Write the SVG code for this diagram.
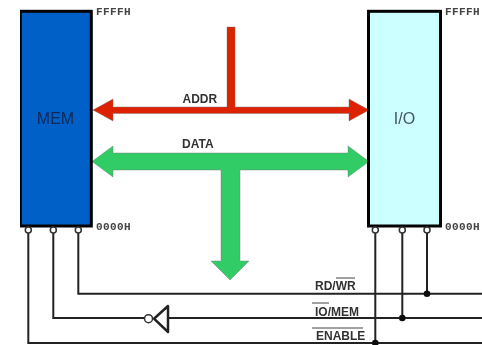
<svg xmlns="http://www.w3.org/2000/svg" width="482" height="345" viewBox="0 0 482 345">
<defs><filter id="soft" x="0" y="0" width="100%" height="100%"><feGaussianBlur stdDeviation="0.45"/></filter></defs>
<style>
.all{filter:url(#soft)}
.box{stroke:#000;stroke-width:3}
.addr{font:bold 11px "Liberation Mono",monospace;letter-spacing:.4px;fill:#444}
.sig{font:bold 12px "Liberation Sans",Arial,sans-serif;fill:#333}
.name{font:16px "Liberation Sans",Arial,sans-serif;text-anchor:middle}
.w{fill:none;stroke:#222;stroke-width:2}
.pin{fill:#fff;stroke:#333;stroke-width:1.500}
.ol{stroke:#444;stroke-width:1;fill:none}
.dot{fill:#111}
.bus{stroke:#777;stroke-width:.6;stroke-opacity:.7}
</style>
<rect width="482" height="345" fill="#fff"/>
<g class="all">
<g id="connectors">
<path class="w" d="M78.300 232V293.700H482M53.300 232V318H145M169 318H482M28.300 232V343H482M375.300 228V343M402.300 228V318M427 228V293.700"/>
<circle class="dot" cx="427" cy="293.700" r="3.300"/>
<circle class="dot" cx="402.300" cy="318" r="3.300"/>
<circle class="dot" cx="375.300" cy="343" r="3.300"/>
<path class="bus" d="M227 27H235V107H349V99L369 110L349 121V113.500H113V121L93 110L113 99V107H227Z" fill="#dd2200"/>
<path class="bus" d="M113 153H348V146L369 161.500L348 177V170H240V261H249L230 280L211 261H221V170H113V177L92 161.500L113 146Z" fill="#33cc66"/>
</g>
<g id="mem">
<rect class="box" x="20.300" y="11.300" width="71" height="214.700" fill="#0060c8"/>
<text class="name" x="55.500" y="124" fill="#0a2a5c">MEM</text>
<text class="addr" x="96" y="14.500">FFFFH</text>
<text class="addr" x="96" y="229.500">0000H</text>
<circle class="pin" cx="28.300" cy="230" r="3"/><circle class="pin" cx="53.300" cy="230" r="3"/><circle class="pin" cx="78.300" cy="230" r="3"/>
</g>
<g id="io">
<rect class="box" x="368.500" y="11.300" width="72" height="214.700" fill="#ccffff"/>
<text class="name" x="404.500" y="124" fill="#445566">I/O</text>
<text class="addr" x="445" y="14.500">FFFFH</text>
<text class="addr" x="445" y="229.500">0000H</text>
<circle class="pin" cx="375.300" cy="230" r="3"/><circle class="pin" cx="402.300" cy="230" r="3"/><circle class="pin" cx="427" cy="230" r="3"/>
</g>
<g id="inverter">
<path d="M168 306V332L154 318.700Z" fill="#fff" stroke="#222" stroke-width="2.500" stroke-linejoin="round"/>
<circle cx="148.500" cy="318.700" r="4" fill="#fff" stroke="#333" stroke-width="1.500"/>
</g>
<g id="labels">
<text class="sig" x="182.500" y="103">ADDR</text>
<text class="sig" x="182" y="148">DATA</text>
<text class="sig" x="315" y="290">RD/WR</text>
<path class="ol" d="M336 278H355"/>
<text class="sig" x="315" y="315.500">IO/MEM</text>
<path class="ol" d="M312 303H329"/>
<text class="sig" x="316" y="340">ENABLE</text>
<path class="ol" d="M312 328H363"/>
</g>
</g>
</svg>
